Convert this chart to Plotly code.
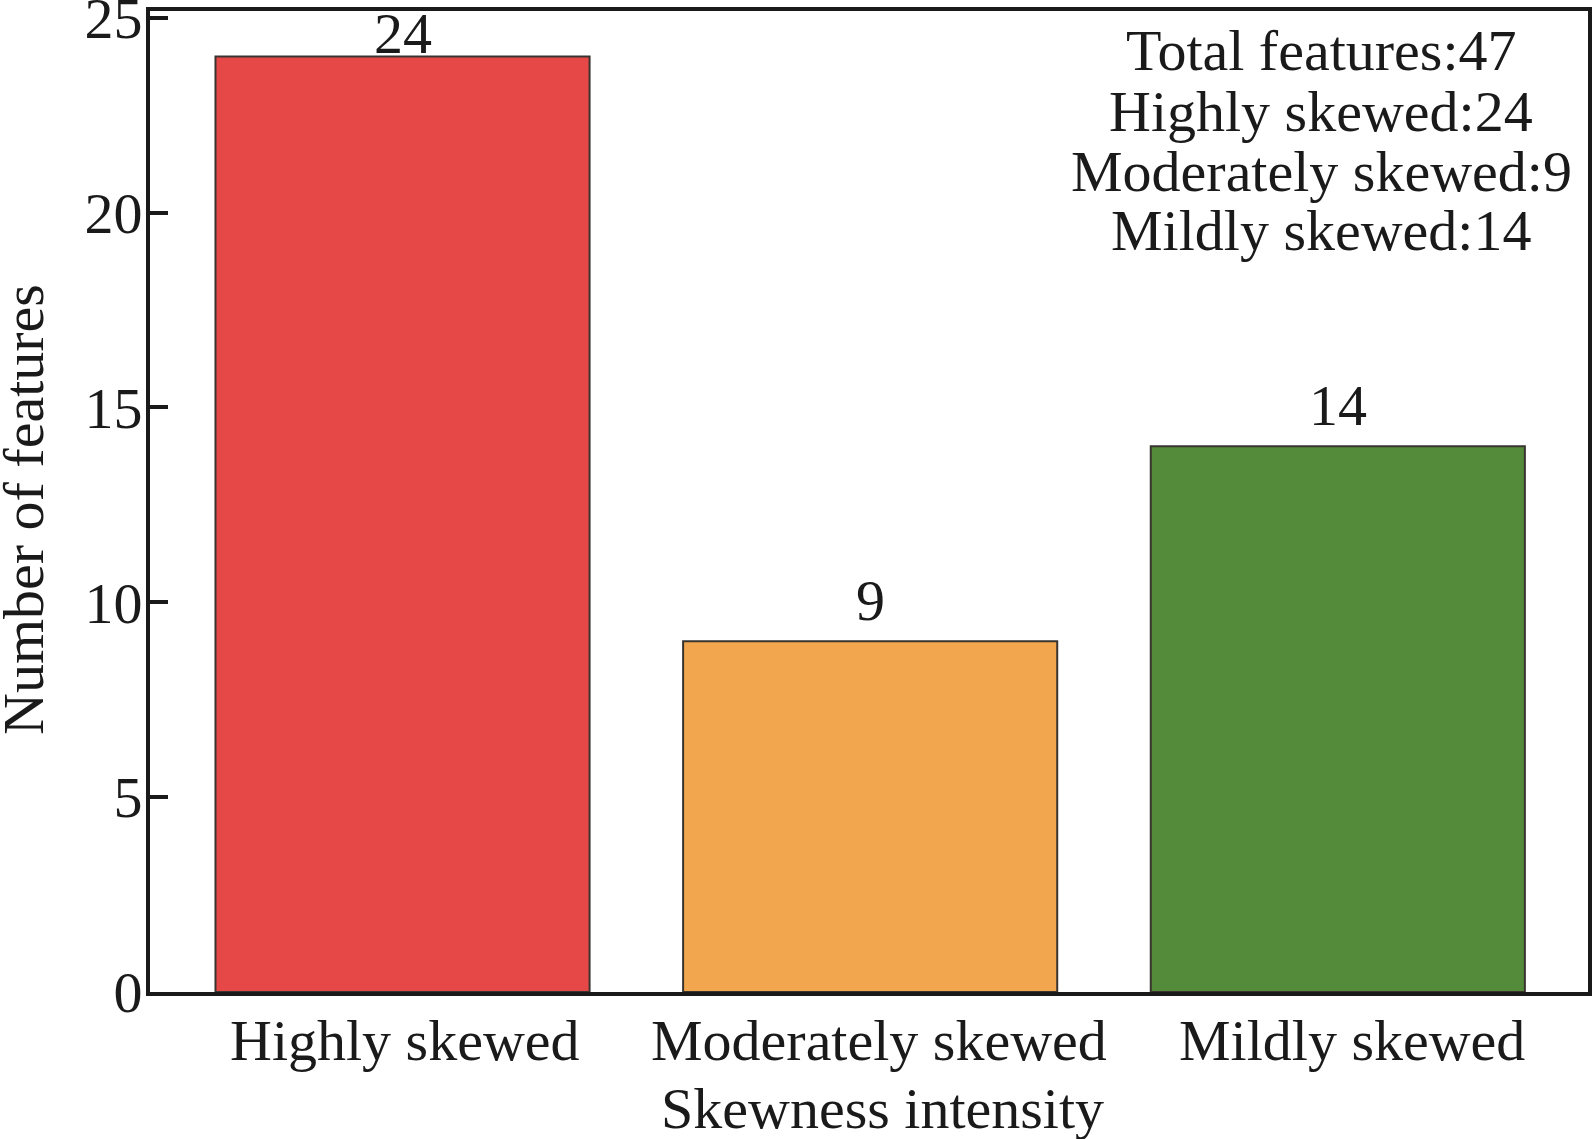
import plotly.graph_objects as go

categories = ["Highly skewed", "Moderately skewed", "Mildly skewed"]
counts = [24, 9, 14]
bar_colors = ["#E64747", "#F2A74E", "#538B3A"]
y_ticks = [0, 5, 10, 15, 20, 25]
summary_lines = [
    "Total features:47",
    "Highly skewed:24",
    "Moderately skewed:9",
    "Mildly skewed:14",
]
x_title = "Skewness intensity"
y_title = "Number of features"

W, H = 1593, 1139
M_L, M_R, M_T, M_B = 150, 5, 11, 147
Y_MAX = 25.17
FONT = "Liberation Serif, Times New Roman, serif"
FS = 58
INK = "#1a1a1a"

plot_w = W - M_L - M_R
plot_h = H - M_T - M_B
ppu = plot_h / Y_MAX


def px_x(px):
    return (px - M_L) / plot_w


def px_y(px):
    return (H - M_B - px) / plot_h


fig = go.Figure()
fig.add_trace(go.Bar(
    x=categories, y=counts,
    marker=dict(color=bar_colors, line=dict(color="#3a3430", width=2)),
    width=0.8, showlegend=False, hoverinfo="skip",
))

font = dict(family=FONT, size=FS, color=INK)
annotations = []
# value labels above bars
for c, v in zip(categories, counts):
    top_gap = (Y_MAX - v) * ppu
    shift = min(6, top_gap + 10 - 67)
    annotations.append(dict(
        x=c, y=v, xref="x", yref="y", text=str(v), showarrow=False,
        yanchor="bottom", xanchor="center", yshift=shift, font=font,
    ))

# category tick labels (slight rightward drift as in the reference)
label_drift = [2, 9, 14]
for c, d in zip(categories, label_drift):
    annotations.append(dict(
        x=c, y=px_y(1040), xref="x", yref="paper", text=c, showarrow=False,
        xanchor="center", yanchor="middle", xshift=d, font=font,
    ))

# summary text block
baselines_px = [71, 131, 191, 251]
for line, b in zip(summary_lines, baselines_px):
    annotations.append(dict(
        x=px_x(1321), y=px_y(b - 20), xref="paper", yref="paper",
        text=line, showarrow=False, xanchor="center", yanchor="middle",
        font=font,
    ))

# axis titles
annotations.append(dict(
    x=px_x(882), y=px_y(1108), xref="paper", yref="paper", text=x_title,
    showarrow=False, xanchor="center", yanchor="middle", font=font,
))
annotations.append(dict(
    x=px_x(23), y=px_y(510), xref="paper", yref="paper", text=y_title,
    showarrow=False, xanchor="center", yanchor="middle", textangle=-90,
    font=font,
))

fig.update_layout(
    width=W, height=H,
    margin=dict(l=M_L, r=M_R, t=M_T, b=M_B, autoexpand=False),
    paper_bgcolor="white", plot_bgcolor="white",
    font=font,
    annotations=annotations,
    bargap=0.2,
)
fig.update_xaxes(
    range=[-0.54, 2.535], showline=True, linewidth=4, linecolor=INK,
    mirror=True, ticks="", showgrid=False, zeroline=False,
    showticklabels=False, automargin=False,
)
fig.update_yaxes(
    range=[0, Y_MAX], tickvals=y_ticks, showline=True, linewidth=4,
    linecolor=INK, mirror=True, ticks="inside", ticklen=18, tickwidth=4,
    tickcolor=INK, showgrid=False, zeroline=False,
    tickfont=font, ticklabeloverflow="allow", ticklabelstandoff=-8,
    automargin=False,
)

fig.write_html("out.html", config={"displayModeBar": False},
               post_script="document.body.style.margin='0';")
